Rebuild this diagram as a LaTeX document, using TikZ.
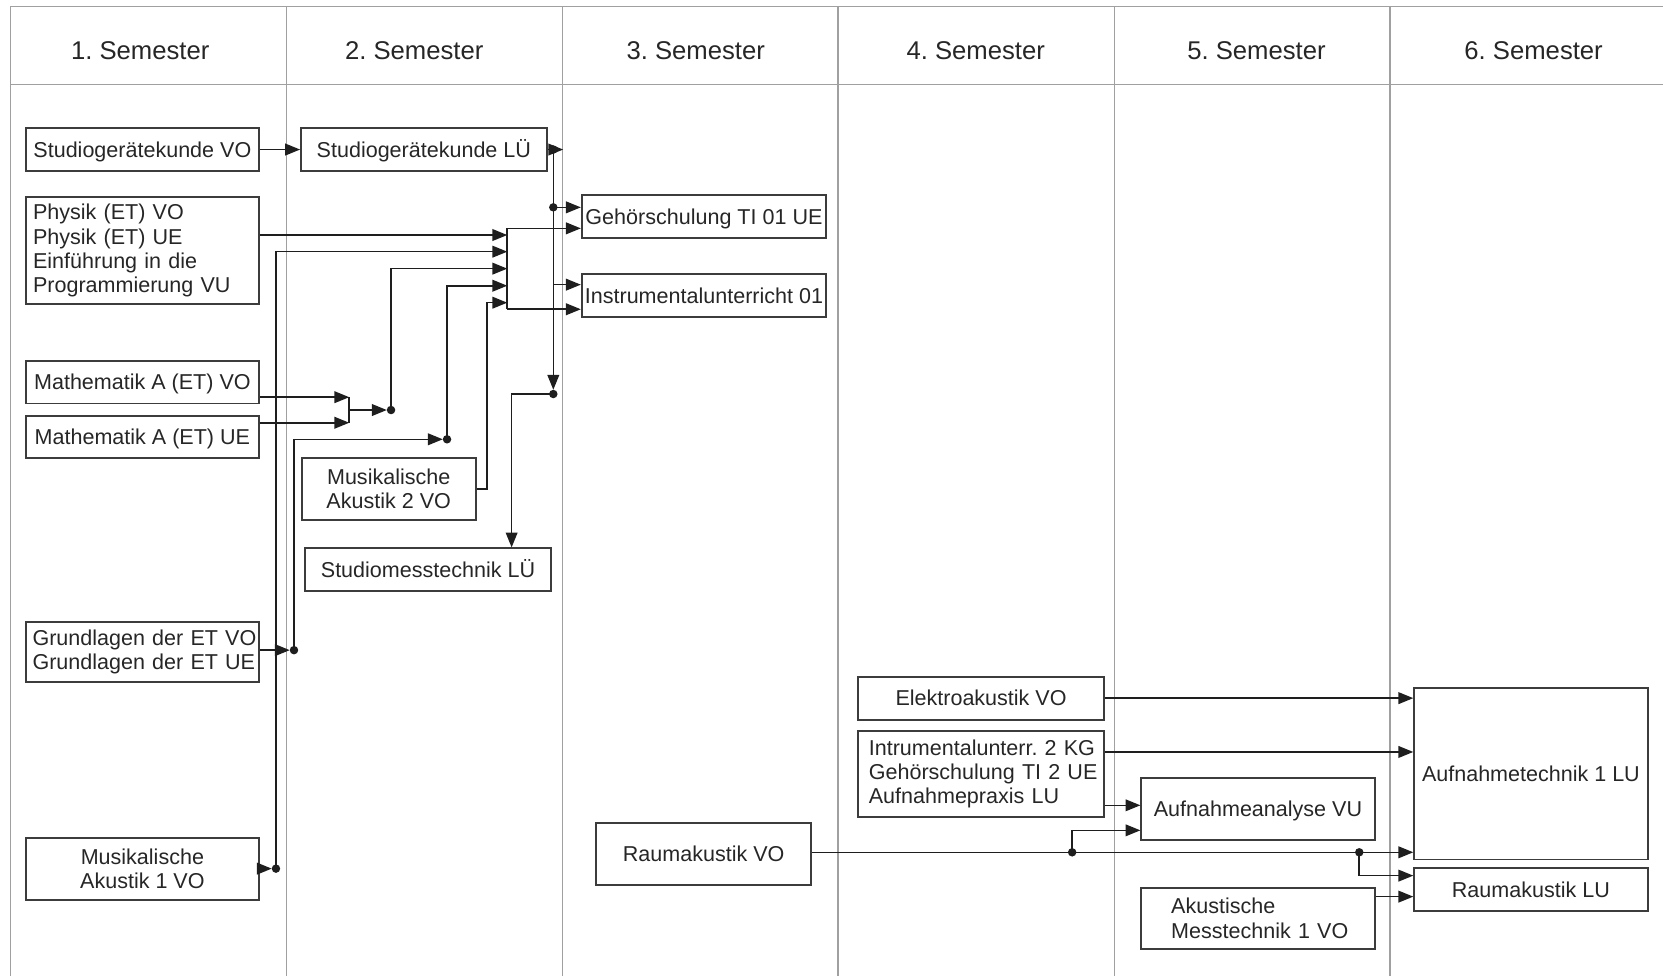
\documentclass[tikz,border=0pt]{standalone}
\usepackage{fontspec}
\setmainfont{Liberation Sans}
\usetikzlibrary{arrows.meta}
\definecolor{gridc}{HTML}{A0A0A0}
\definecolor{boxc}{HTML}{3C3C3C}
\definecolor{linec}{HTML}{1E1E1E}
\definecolor{txtc}{HTML}{262626}
\newcommand\nbx[1]{\mbox{#1}}
\frenchspacing
\begin{document}
\begin{tikzpicture}[x=1pt,y=-1pt,
  font=\fontsize{20.3}{22.7}\selectfont,
  gridline/.style={draw=gridc,line width=1.3pt},
  head/.style={font=\fontsize{24.2}{28}\selectfont,text=txtc,anchor=base,inner sep=0pt},
  box/.style={draw=boxc,line width=1.7pt,inner sep=0pt,text=txtc},
  one/.style={box,text height=14.6pt,text depth=0pt},
  multi/.style={box,align=center},
  lbox/.style={box,align=left},
  conn/.style={draw=linec,line width=1.5pt},
  arr/.style={conn,-{Triangle[length=14pt,width=11pt]}},
  dotarr/.style={arr,shorten >=4pt},
  jdot/.style={fill=linec}
]
\useasboundingbox (0,0) rectangle (1568,920);
% grid
\draw[gridline] (9.7,6) -- (1568,6);
\draw[gridline] (9.7,79.5) -- (1568,79.5);
\foreach \x in {9.7,270.3,530.1,790,1050.7,1310.6}
  \draw[gridline] (\x,6) -- (\x,920);
% headers
\node[head] (h1) at (132.2,55.8) {1. Semester};
\node[head] (h2) at (390.6,55.8) {2. Semester};
\node[head] (h3) at (656,55.8) {3. Semester};
\node[head] (h4) at (920,55.8) {4. Semester};
\node[head] (h5) at (1184.7,55.8) {5. Semester};
\node[head] (h6) at (1446,55.8) {6. Semester};
% boxes
\node[one,minimum width=220.1pt,minimum height=40pt] (sgkvo) at (134.25,141) {Studiogerätekunde VO};
\node[one,minimum width=231.7pt,minimum height=40pt] (sgklu) at (399.65,141) {Studiogerätekunde LÜ};
\node[lbox,text width=206.1pt,inner xsep=7pt,minimum height=100.4pt] (phys) at (134.25,236.2)
  {\nbx{Physik (ET) VO}\\\nbx{Physik (ET) UE}\\\nbx{Einführung in die}\\\nbx{Programmierung VU}};
\node[one,minimum width=220.1pt,minimum height=40.5pt] (mvo) at (134.25,360.25) {Mathematik A (ET) VO};
\node[one,minimum width=220.1pt,minimum height=39.9pt] (mue) at (134.25,412.15) {Mathematik A (ET) UE};
\node[multi,minimum width=164pt,minimum height=58.2pt] (ma2) at (366.5,461.2) {Musikalische\\Akustik 2 VO};
\node[one,minimum width=231.9pt,minimum height=40.2pt] (smt) at (403.55,537.1) {Studiomesstechnik LÜ};
\node[lbox,text width=207.1pt,inner xsep=6.5pt,minimum height=56.4pt] (gru) at (134.25,614.8)
  {\nbx{Grundlagen der ET VO}\\\nbx{Grundlagen der ET UE}};
\node[multi,minimum width=220.1pt,minimum height=58.2pt] (ma1) at (134.25,819.5) {Musikalische\\Akustik 1 VO};
\node[one,minimum width=230.5pt,minimum height=40.4pt] (geh) at (663.75,204.1) {Gehörschulung TI 01 UE};
\node[one,minimum width=230.5pt,minimum height=40.6pt] (instr) at (663.75,278.9) {Instrumentalunterricht 01};
\node[one,minimum width=231.6pt,minimum height=40.5pt] (elek) at (925,658.25) {Elektroakustik VO};
\node[lbox,text width=211.6pt,inner xsep=10pt,minimum height=81.1pt] (intr) at (925,729.45)
  {\nbx{Intrumentalunterr. 2 KG}\\\nbx{Gehörschulung TI 2 UE}\\\nbx{Aufnahmepraxis LU}};
\node[one,minimum width=203pt,minimum height=58.1pt] (rvo) at (663.5,805.35) {Raumakustik VO};
\node[one,minimum width=220pt,minimum height=58.1pt] (aana) at (1186.1,762.95) {Aufnahmeanalyse VU};
\node[lbox,text width=163.6pt,inner xsep=28.2pt,minimum height=57.9pt] (akm) at (1186.1,865.85)
  {\nbx{Akustische}\\\nbx{Messtechnik 1 VO}};
\node[one,minimum width=220.1pt,minimum height=161.9pt] (atech) at (1443.45,729.35) {Aufnahmetechnik 1 LU};
\node[one,minimum width=220.1pt,minimum height=40.3pt] (rlu) at (1443.45,838.85) {Raumakustik LU};
% junction coordinates
\coordinate (j1) at (521.7,141);
\coordinate (j1t) at (531,141);
\coordinate (j2) at (521.7,371.5);
\coordinate (j3) at (521.7,195.5);
\coordinate (j4) at (521.7,268.4);
\coordinate (k1) at (482.4,371.5);
\coordinate (bt) at (478.3,215.3);
\coordinate (bb) at (478.3,291.6);
\coordinate (in1) at (478.3,221.6);
\coordinate (in2) at (478.3,237.3);
\coordinate (in3) at (478.3,253.3);
\coordinate (in4) at (478.3,269.4);
\coordinate (in5) at (478.3,285.4);
\coordinate (ma1j) at (260.2,819);
\coordinate (mj) at (368.7,386.6);
\coordinate (gj) at (277.2,613);
\coordinate (gj2) at (421.5,414.2);
\coordinate (e5) at (458.9,461.2);
\coordinate (mbt) at (329.3,374.5);
\coordinate (mbb) at (329.3,398.6);
\coordinate (r1) at (1010.9,803.6);
\coordinate (r2) at (1281.6,803.6);
% upper connectors
\draw[arr] (sgkvo) -- (sgklu);
\draw[arr] (sgklu.east) -- (j1t);
\draw[dotarr] (j1) -- (j2);
\draw[arr] (j3) -- (j3 -| geh.west);
\draw[arr] (j4) -- (j4 -| instr.west);
\draw[arr] (j2) -- (k1) -- (k1 |- smt.north);
\draw[conn] (bt) -- (bb);
\draw[arr] (bt) -- (bt -| geh.west);
\draw[arr] (bb) -- (bb -| instr.west);
\draw[arr] (in1 -| phys.east) -- (in1);
\draw[arr] (ma1j) |- (in2);
\draw[arr] (mj) |- (in3);
\draw[arr] (gj2) |- (in4);
\draw[arr] (ma2.east) -- (e5) |- (in5);
\draw[arr] (mbt -| mvo.east) -- (mbt);
\draw[arr] (mbb -| mue.east) -- (mbb);
\draw[conn] (mbt) -- (mbb);
\draw[dotarr] (mbt |- mj) -- (mj);
\draw[dotarr] (gj -| gru.east) -- (gj);
\draw[dotarr] (gj) |- (gj2);
\draw[dotarr] (ma1j -| ma1.east) -- (ma1j);
\foreach \p in {j1,j2,j3,mj,gj,gj2,ma1j}
  \fill[jdot] (\p) circle (4pt);
% lower connectors
\draw[arr] (elek.east) -- (elek.east -| atech.west);
\draw[arr] ([yshift=20.45pt]intr.east) coordinate (q1) -- (q1 -| atech.west);
\draw[arr] ([yshift=-29.85pt]intr.east) coordinate (q2) -- (q2 -| aana.west);
\draw[arr] (r1 -| rvo.east) -- (r1 -| atech.west);
\draw[arr] (r1) |- ([yshift=-19.95pt]aana.west);
\draw[arr] (r2) |- ([yshift=13.25pt]rlu.west);
\draw[arr] ([yshift=20.45pt]akm.east) coordinate (q4) -- (q4 -| rlu.west);
\fill[jdot] (r1) circle (4pt);
\fill[jdot] (r2) circle (4pt);
\end{tikzpicture}
\end{document}
